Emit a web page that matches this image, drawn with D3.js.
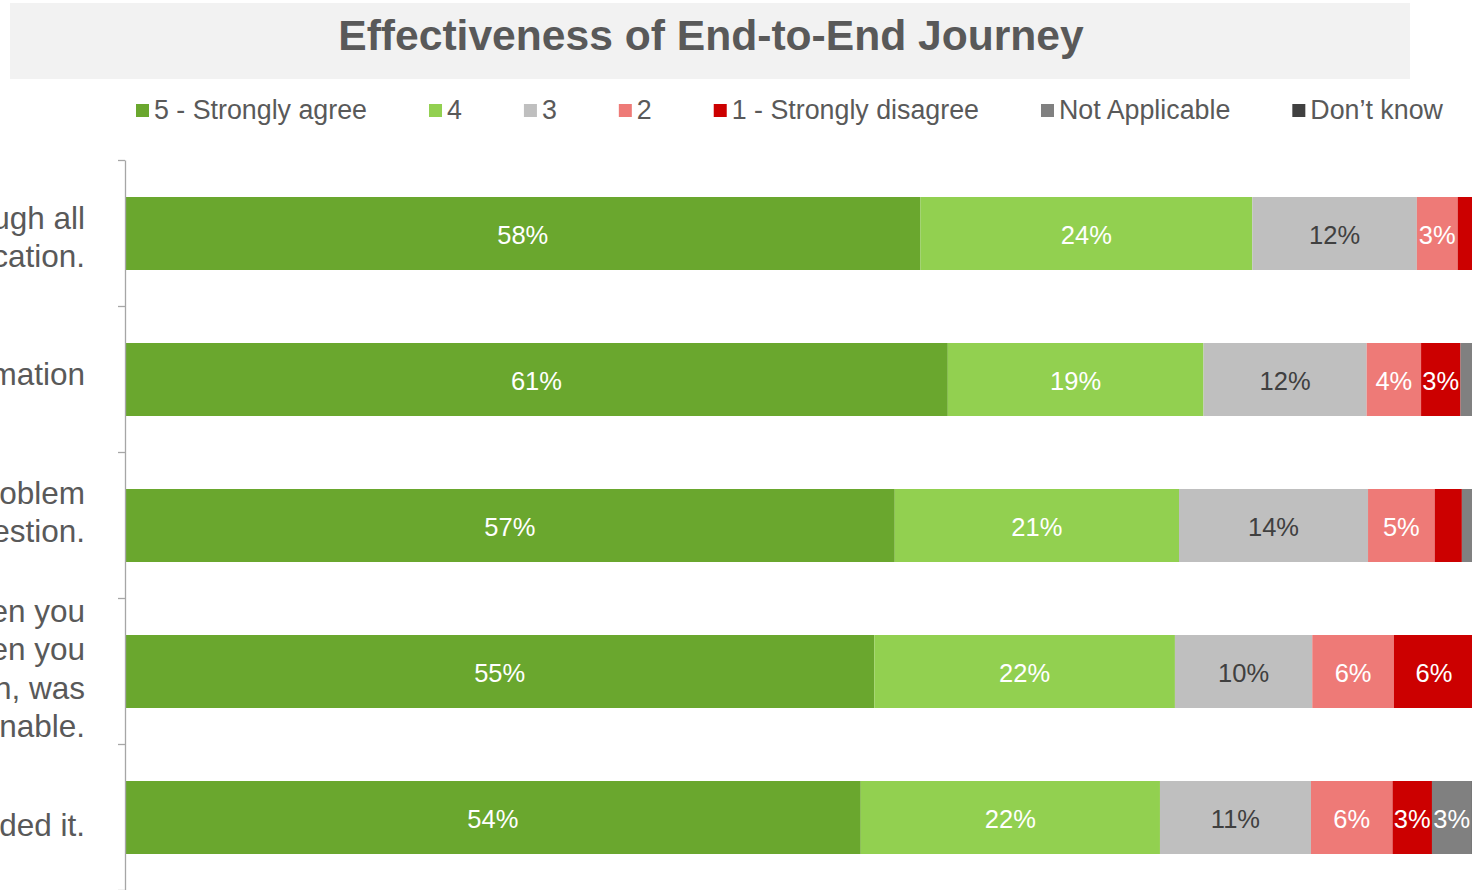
<!DOCTYPE html>
<html>
<head>
<meta charset="utf-8">
<script src="https://cdn.jsdelivr.net/npm/d3@7/dist/d3.min.js"></script>
<style>
  html, body { margin: 0; padding: 0; background: #ffffff; overflow: hidden; }
  svg { display: block; font-family: Arial, "Liberation Sans", sans-serif; }
</style>
</head>
<body>
<svg id="chart" width="1472" height="890"></svg>
<script>
// ---- Data ----
const title = "Effectiveness of End-to-End Journey";
const categories = [
  ["You were guided smoothly through all", "stages of your application."],
  ["You were given clear information"],
  ["Staff understood your problem", "or question."],
  ["The time taken from when you", "first got in touch to when you", "received a resolution, was", "reasonable."],
  ["You got support when you needed it."]
];
const seriesNames = ["5 - Strongly agree", "4", "3", "2", "1 - Strongly disagree", "Not Applicable", "Don\u2019t know"];
const strongAgree      = [58.49, 60.5, 56.6, 55.1, 54.1];
const agree            = [24.4, 18.8, 20.9, 22.1, 22.0];
const neutral          = [12.1, 12.0, 13.9, 10.1, 11.1];
const disagree         = [3.0, 4.0, 4.9, 6.0, 6.0];
const stronglyDisagree = [1.5, 2.9, 2.0, 5.9, 2.9];
const notApplicable    = [0.41, 1.2, 1.2, 0.5, 2.9];
const dontKnow         = [0.1, 0.6, 0.5, 0.3, 1.0];

// layout: vertical nudge of each category label block (px)
const labelShift = [3, -6, -14, -3.5, 7];

const seriesValues = [strongAgree, agree, neutral, disagree, stronglyDisagree, notApplicable, dontKnow];
const colors = ["#6AA72E", "#92D050", "#BFBFBF", "#EE7A77", "#CC0000", "#808080", "#404040"];
const labelColors = ["#ffffff", "#ffffff", "#404040", "#ffffff", "#ffffff", "#ffffff", "#ffffff"];

// ---- Build stacked table ----
const keys = seriesNames;
const rows = categories.map((c, i) => {
  const r = { idx: i };
  keys.forEach((k, j) => r[k] = seriesValues[j][i]);
  return r;
});
const stacked = d3.stack().keys(keys)(rows);

const svg = d3.select("#chart");
const textColor = "#595959";

// Title box
svg.append("rect").attr("x", 10).attr("y", 3).attr("width", 1400).attr("height", 76).attr("fill", "#F2F2F2");
svg.append("text").attr("x", 711).attr("y", 50).attr("text-anchor", "middle")
  .attr("font-size", 42.6).attr("font-weight", "bold").attr("fill", textColor).text(title);

// Scales
const x = d3.scaleLinear().domain([0, 100]).range([125, 1485]);
const y = d3.scaleBand().domain(d3.range(categories.length)).range([160.5, 890.5]).paddingInner(0.5).paddingOuter(0.25);
const yEdge = d3.scaleLinear().domain([0, categories.length]).range([160, 890]);

// Bars
const layer = svg.append("g").selectAll("g").data(stacked).join("g")
  .attr("fill", (d, i) => colors[i]);
layer.selectAll("rect").data(d => d).join("rect")
  .attr("x", d => x(d[0]))
  .attr("y", (d, i) => y(i))
  .attr("width", d => x(d[1]) - x(d[0]))
  .attr("height", y.bandwidth());

// Value labels
stacked.forEach((s, si) => {
  svg.append("g").selectAll("text").data(s.filter(d => d[1] - d[0] >= 2.5)).join("text")
    .attr("x", d => (x(d[0]) + x(d[1])) / 2)
    .attr("y", d => y(d.data.idx) + y.bandwidth() / 2 + 1)
    .attr("dy", "0.36em")
    .attr("text-anchor", "middle")
    .attr("font-size", 25.5)
    .attr("fill", labelColors[si])
    .text(d => Math.round(d[1] - d[0]) + "%");
});

// Axis (ticks at category boundaries)
const axis = svg.append("g").attr("transform", "translate(125,0)")
  .call(d3.axisLeft(yEdge).tickValues(d3.range(categories.length + 1)).tickFormat("").tickSize(7).tickSizeOuter(0));
axis.selectAll("path, line").attr("stroke", "#A6A6A6").attr("stroke-width", 1.3);

// Category labels
const lineH = 38.5;
categories.forEach((lines, i) => {
  const cy = y(i) + y.bandwidth() / 2 + labelShift[i];
  const t = svg.append("text").attr("text-anchor", "end").attr("font-size", 31.5).attr("fill", textColor);
  const y0 = cy - (lines.length - 1) * lineH / 2;
  lines.forEach((ln, k) => {
    t.append("tspan").attr("x", 85).attr("y", y0 + k * lineH).attr("dy", "0.36em").text(ln);
  });
});

// Legend (flow layout)
const legend = svg.append("g");
let lx = 136;
seriesNames.forEach((name, i) => {
  legend.append("rect").attr("x", lx).attr("y", 104).attr("width", 13).attr("height", 13).attr("fill", colors[i]);
  const t = legend.append("text").attr("x", lx + 18).attr("y", 119).attr("font-size", 26.8).attr("fill", textColor).text(name);
  lx = lx + 18 + t.node().getComputedTextLength() + 62;
});
</script>
</body>
</html>
